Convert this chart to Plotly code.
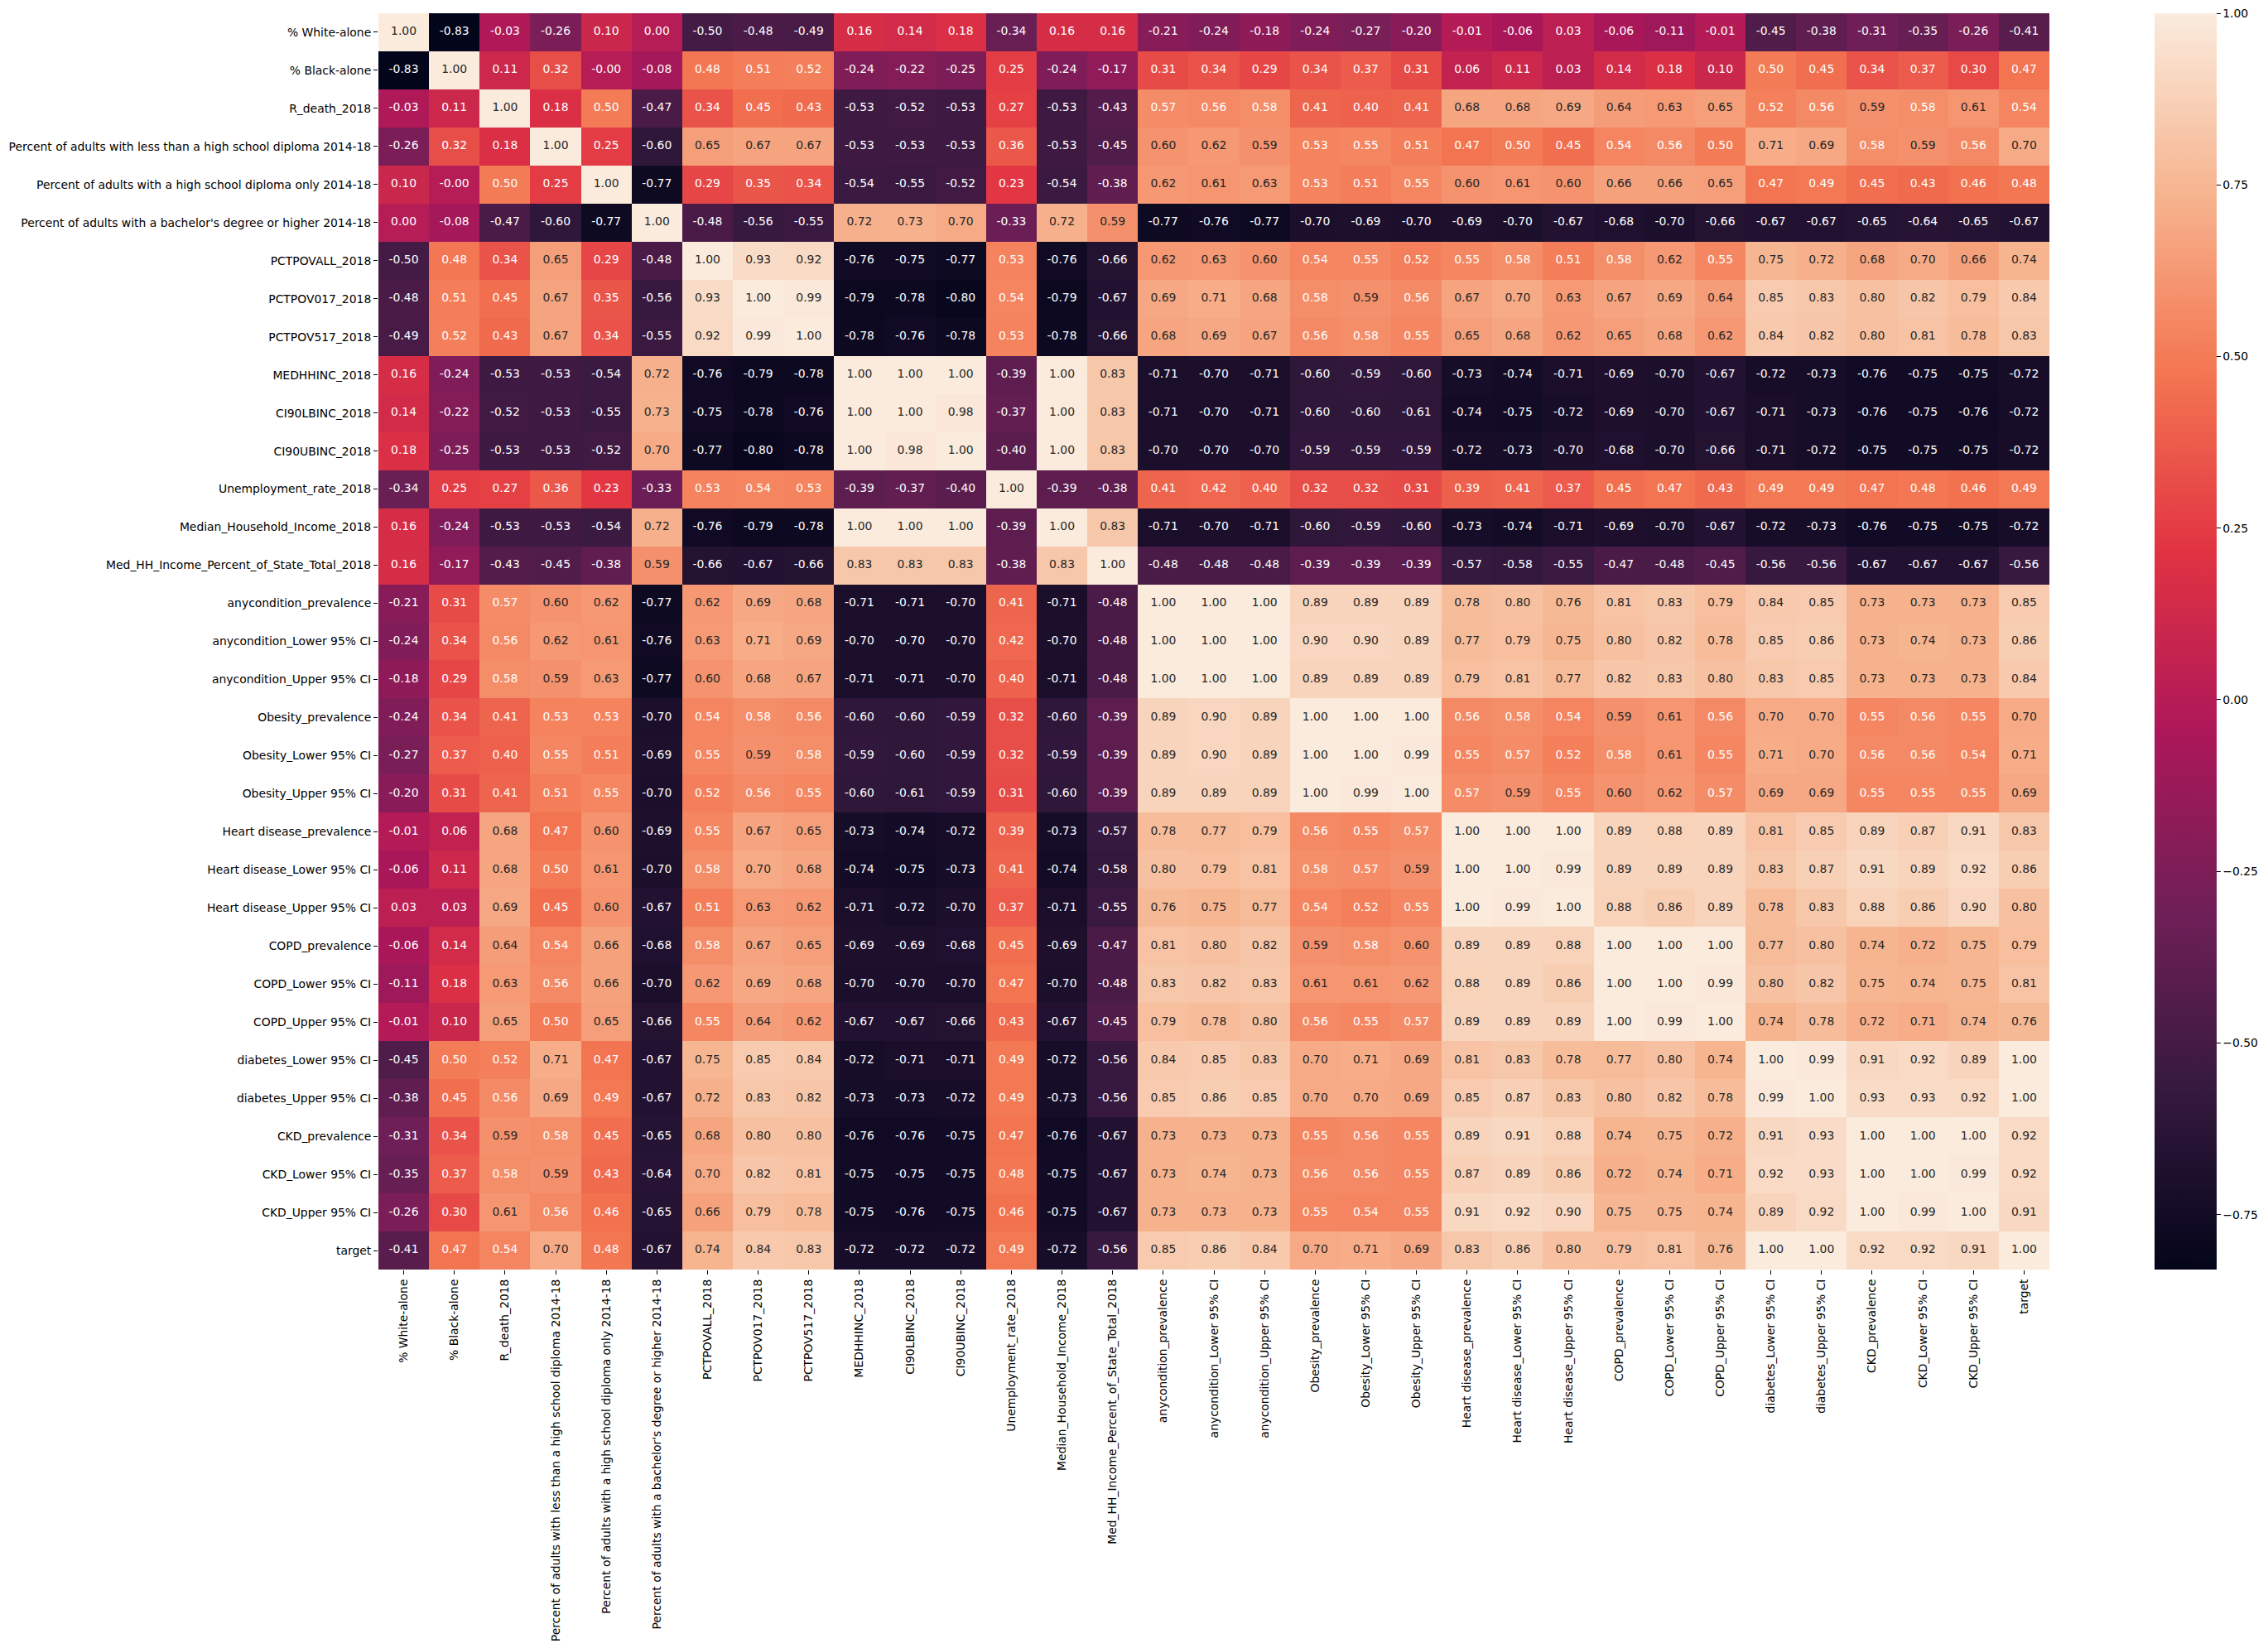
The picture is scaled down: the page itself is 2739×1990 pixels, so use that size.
import plotly.graph_objects as go

labels = [
    "% White-alone", "% Black-alone", "R_death_2018",
    "Percent of adults with less than a high school diploma 2014-18",
    "Percent of adults with a high school diploma only 2014-18",
    "Percent of adults with a bachelor's degree or higher 2014-18",
    "PCTPOVALL_2018", "PCTPOV017_2018", "PCTPOV517_2018",
    "MEDHHINC_2018", "CI90LBINC_2018", "CI90UBINC_2018",
    "Unemployment_rate_2018", "Median_Household_Income_2018",
    "Med_HH_Income_Percent_of_State_Total_2018",
    "anycondition_prevalence", "anycondition_Lower 95% CI", "anycondition_Upper 95% CI",
    "Obesity_prevalence", "Obesity_Lower 95% CI", "Obesity_Upper 95% CI",
    "Heart disease_prevalence", "Heart disease_Lower 95% CI", "Heart disease_Upper 95% CI",
    "COPD_prevalence", "COPD_Lower 95% CI", "COPD_Upper 95% CI",
    "diabetes_Lower 95% CI", "diabetes_Upper 95% CI",
    "CKD_prevalence", "CKD_Lower 95% CI", "CKD_Upper 95% CI", "target",
]

corr = [
    [1.00, -0.83, -0.03, -0.26, 0.10, 0.00, -0.50, -0.48, -0.49, 0.16, 0.14, 0.18, -0.34, 0.16, 0.16, -0.21, -0.24, -0.18, -0.24, -0.27, -0.20, -0.01, -0.06, 0.03, -0.06, -0.11, -0.01, -0.45, -0.38, -0.31, -0.35, -0.26, -0.41],
    [-0.83, 1.00, 0.11, 0.32, -0.0, -0.08, 0.48, 0.51, 0.52, -0.24, -0.22, -0.25, 0.25, -0.24, -0.17, 0.31, 0.34, 0.29, 0.34, 0.37, 0.31, 0.06, 0.11, 0.03, 0.14, 0.18, 0.10, 0.50, 0.45, 0.34, 0.37, 0.30, 0.47],
    [-0.03, 0.11, 1.00, 0.18, 0.50, -0.47, 0.34, 0.45, 0.43, -0.53, -0.52, -0.53, 0.27, -0.53, -0.43, 0.57, 0.56, 0.58, 0.41, 0.40, 0.41, 0.68, 0.68, 0.69, 0.64, 0.63, 0.65, 0.52, 0.56, 0.59, 0.58, 0.61, 0.54],
    [-0.26, 0.32, 0.18, 1.00, 0.25, -0.60, 0.65, 0.67, 0.67, -0.53, -0.53, -0.53, 0.36, -0.53, -0.45, 0.60, 0.62, 0.59, 0.53, 0.55, 0.51, 0.47, 0.50, 0.45, 0.54, 0.56, 0.50, 0.71, 0.69, 0.58, 0.59, 0.56, 0.70],
    [0.10, -0.0, 0.50, 0.25, 1.00, -0.77, 0.29, 0.35, 0.34, -0.54, -0.55, -0.52, 0.23, -0.54, -0.38, 0.62, 0.61, 0.63, 0.53, 0.51, 0.55, 0.60, 0.61, 0.60, 0.66, 0.66, 0.65, 0.47, 0.49, 0.45, 0.43, 0.46, 0.48],
    [0.00, -0.08, -0.47, -0.60, -0.77, 1.00, -0.48, -0.56, -0.55, 0.72, 0.73, 0.70, -0.33, 0.72, 0.59, -0.77, -0.76, -0.77, -0.70, -0.69, -0.70, -0.69, -0.70, -0.67, -0.68, -0.70, -0.66, -0.67, -0.67, -0.65, -0.64, -0.65, -0.67],
    [-0.50, 0.48, 0.34, 0.65, 0.29, -0.48, 1.00, 0.93, 0.92, -0.76, -0.75, -0.77, 0.53, -0.76, -0.66, 0.62, 0.63, 0.60, 0.54, 0.55, 0.52, 0.55, 0.58, 0.51, 0.58, 0.62, 0.55, 0.75, 0.72, 0.68, 0.70, 0.66, 0.74],
    [-0.48, 0.51, 0.45, 0.67, 0.35, -0.56, 0.93, 1.00, 0.99, -0.79, -0.78, -0.80, 0.54, -0.79, -0.67, 0.69, 0.71, 0.68, 0.58, 0.59, 0.56, 0.67, 0.70, 0.63, 0.67, 0.69, 0.64, 0.85, 0.83, 0.80, 0.82, 0.79, 0.84],
    [-0.49, 0.52, 0.43, 0.67, 0.34, -0.55, 0.92, 0.99, 1.00, -0.78, -0.76, -0.78, 0.53, -0.78, -0.66, 0.68, 0.69, 0.67, 0.56, 0.58, 0.55, 0.65, 0.68, 0.62, 0.65, 0.68, 0.62, 0.84, 0.82, 0.80, 0.81, 0.78, 0.83],
    [0.16, -0.24, -0.53, -0.53, -0.54, 0.72, -0.76, -0.79, -0.78, 1.00, 1.00, 1.00, -0.39, 1.00, 0.83, -0.71, -0.70, -0.71, -0.60, -0.59, -0.60, -0.73, -0.74, -0.71, -0.69, -0.70, -0.67, -0.72, -0.73, -0.76, -0.75, -0.75, -0.72],
    [0.14, -0.22, -0.52, -0.53, -0.55, 0.73, -0.75, -0.78, -0.76, 1.00, 1.00, 0.98, -0.37, 1.00, 0.83, -0.71, -0.70, -0.71, -0.60, -0.60, -0.61, -0.74, -0.75, -0.72, -0.69, -0.70, -0.67, -0.71, -0.73, -0.76, -0.75, -0.76, -0.72],
    [0.18, -0.25, -0.53, -0.53, -0.52, 0.70, -0.77, -0.80, -0.78, 1.00, 0.98, 1.00, -0.40, 1.00, 0.83, -0.70, -0.70, -0.70, -0.59, -0.59, -0.59, -0.72, -0.73, -0.70, -0.68, -0.70, -0.66, -0.71, -0.72, -0.75, -0.75, -0.75, -0.72],
    [-0.34, 0.25, 0.27, 0.36, 0.23, -0.33, 0.53, 0.54, 0.53, -0.39, -0.37, -0.40, 1.00, -0.39, -0.38, 0.41, 0.42, 0.40, 0.32, 0.32, 0.31, 0.39, 0.41, 0.37, 0.45, 0.47, 0.43, 0.49, 0.49, 0.47, 0.48, 0.46, 0.49],
    [0.16, -0.24, -0.53, -0.53, -0.54, 0.72, -0.76, -0.79, -0.78, 1.00, 1.00, 1.00, -0.39, 1.00, 0.83, -0.71, -0.70, -0.71, -0.60, -0.59, -0.60, -0.73, -0.74, -0.71, -0.69, -0.70, -0.67, -0.72, -0.73, -0.76, -0.75, -0.75, -0.72],
    [0.16, -0.17, -0.43, -0.45, -0.38, 0.59, -0.66, -0.67, -0.66, 0.83, 0.83, 0.83, -0.38, 0.83, 1.00, -0.48, -0.48, -0.48, -0.39, -0.39, -0.39, -0.57, -0.58, -0.55, -0.47, -0.48, -0.45, -0.56, -0.56, -0.67, -0.67, -0.67, -0.56],
    [-0.21, 0.31, 0.57, 0.60, 0.62, -0.77, 0.62, 0.69, 0.68, -0.71, -0.71, -0.70, 0.41, -0.71, -0.48, 1.00, 1.00, 1.00, 0.89, 0.89, 0.89, 0.78, 0.80, 0.76, 0.81, 0.83, 0.79, 0.84, 0.85, 0.73, 0.73, 0.73, 0.85],
    [-0.24, 0.34, 0.56, 0.62, 0.61, -0.76, 0.63, 0.71, 0.69, -0.70, -0.70, -0.70, 0.42, -0.70, -0.48, 1.00, 1.00, 1.00, 0.90, 0.90, 0.89, 0.77, 0.79, 0.75, 0.80, 0.82, 0.78, 0.85, 0.86, 0.73, 0.74, 0.73, 0.86],
    [-0.18, 0.29, 0.58, 0.59, 0.63, -0.77, 0.60, 0.68, 0.67, -0.71, -0.71, -0.70, 0.40, -0.71, -0.48, 1.00, 1.00, 1.00, 0.89, 0.89, 0.89, 0.79, 0.81, 0.77, 0.82, 0.83, 0.80, 0.83, 0.85, 0.73, 0.73, 0.73, 0.84],
    [-0.24, 0.34, 0.41, 0.53, 0.53, -0.70, 0.54, 0.58, 0.56, -0.60, -0.60, -0.59, 0.32, -0.60, -0.39, 0.89, 0.90, 0.89, 1.00, 1.00, 1.00, 0.56, 0.58, 0.54, 0.59, 0.61, 0.56, 0.70, 0.70, 0.55, 0.56, 0.55, 0.70],
    [-0.27, 0.37, 0.40, 0.55, 0.51, -0.69, 0.55, 0.59, 0.58, -0.59, -0.60, -0.59, 0.32, -0.59, -0.39, 0.89, 0.90, 0.89, 1.00, 1.00, 0.99, 0.55, 0.57, 0.52, 0.58, 0.61, 0.55, 0.71, 0.70, 0.56, 0.56, 0.54, 0.71],
    [-0.20, 0.31, 0.41, 0.51, 0.55, -0.70, 0.52, 0.56, 0.55, -0.60, -0.61, -0.59, 0.31, -0.60, -0.39, 0.89, 0.89, 0.89, 1.00, 0.99, 1.00, 0.57, 0.59, 0.55, 0.60, 0.62, 0.57, 0.69, 0.69, 0.55, 0.55, 0.55, 0.69],
    [-0.01, 0.06, 0.68, 0.47, 0.60, -0.69, 0.55, 0.67, 0.65, -0.73, -0.74, -0.72, 0.39, -0.73, -0.57, 0.78, 0.77, 0.79, 0.56, 0.55, 0.57, 1.00, 1.00, 1.00, 0.89, 0.88, 0.89, 0.81, 0.85, 0.89, 0.87, 0.91, 0.83],
    [-0.06, 0.11, 0.68, 0.50, 0.61, -0.70, 0.58, 0.70, 0.68, -0.74, -0.75, -0.73, 0.41, -0.74, -0.58, 0.80, 0.79, 0.81, 0.58, 0.57, 0.59, 1.00, 1.00, 0.99, 0.89, 0.89, 0.89, 0.83, 0.87, 0.91, 0.89, 0.92, 0.86],
    [0.03, 0.03, 0.69, 0.45, 0.60, -0.67, 0.51, 0.63, 0.62, -0.71, -0.72, -0.70, 0.37, -0.71, -0.55, 0.76, 0.75, 0.77, 0.54, 0.52, 0.55, 1.00, 0.99, 1.00, 0.88, 0.86, 0.89, 0.78, 0.83, 0.88, 0.86, 0.90, 0.80],
    [-0.06, 0.14, 0.64, 0.54, 0.66, -0.68, 0.58, 0.67, 0.65, -0.69, -0.69, -0.68, 0.45, -0.69, -0.47, 0.81, 0.80, 0.82, 0.59, 0.58, 0.60, 0.89, 0.89, 0.88, 1.00, 1.00, 1.00, 0.77, 0.80, 0.74, 0.72, 0.75, 0.79],
    [-0.11, 0.18, 0.63, 0.56, 0.66, -0.70, 0.62, 0.69, 0.68, -0.70, -0.70, -0.70, 0.47, -0.70, -0.48, 0.83, 0.82, 0.83, 0.61, 0.61, 0.62, 0.88, 0.89, 0.86, 1.00, 1.00, 0.99, 0.80, 0.82, 0.75, 0.74, 0.75, 0.81],
    [-0.01, 0.10, 0.65, 0.50, 0.65, -0.66, 0.55, 0.64, 0.62, -0.67, -0.67, -0.66, 0.43, -0.67, -0.45, 0.79, 0.78, 0.80, 0.56, 0.55, 0.57, 0.89, 0.89, 0.89, 1.00, 0.99, 1.00, 0.74, 0.78, 0.72, 0.71, 0.74, 0.76],
    [-0.45, 0.50, 0.52, 0.71, 0.47, -0.67, 0.75, 0.85, 0.84, -0.72, -0.71, -0.71, 0.49, -0.72, -0.56, 0.84, 0.85, 0.83, 0.70, 0.71, 0.69, 0.81, 0.83, 0.78, 0.77, 0.80, 0.74, 1.00, 0.99, 0.91, 0.92, 0.89, 1.00],
    [-0.38, 0.45, 0.56, 0.69, 0.49, -0.67, 0.72, 0.83, 0.82, -0.73, -0.73, -0.72, 0.49, -0.73, -0.56, 0.85, 0.86, 0.85, 0.70, 0.70, 0.69, 0.85, 0.87, 0.83, 0.80, 0.82, 0.78, 0.99, 1.00, 0.93, 0.93, 0.92, 1.00],
    [-0.31, 0.34, 0.59, 0.58, 0.45, -0.65, 0.68, 0.80, 0.80, -0.76, -0.76, -0.75, 0.47, -0.76, -0.67, 0.73, 0.73, 0.73, 0.55, 0.56, 0.55, 0.89, 0.91, 0.88, 0.74, 0.75, 0.72, 0.91, 0.93, 1.00, 1.00, 1.00, 0.92],
    [-0.35, 0.37, 0.58, 0.59, 0.43, -0.64, 0.70, 0.82, 0.81, -0.75, -0.75, -0.75, 0.48, -0.75, -0.67, 0.73, 0.74, 0.73, 0.56, 0.56, 0.55, 0.87, 0.89, 0.86, 0.72, 0.74, 0.71, 0.92, 0.93, 1.00, 1.00, 0.99, 0.92],
    [-0.26, 0.30, 0.61, 0.56, 0.46, -0.65, 0.66, 0.79, 0.78, -0.75, -0.76, -0.75, 0.46, -0.75, -0.67, 0.73, 0.73, 0.73, 0.55, 0.54, 0.55, 0.91, 0.92, 0.90, 0.75, 0.75, 0.74, 0.89, 0.92, 1.00, 0.99, 1.00, 0.91],
    [-0.41, 0.47, 0.54, 0.70, 0.48, -0.67, 0.74, 0.84, 0.83, -0.72, -0.72, -0.72, 0.49, -0.72, -0.56, 0.85, 0.86, 0.84, 0.70, 0.71, 0.69, 0.83, 0.86, 0.80, 0.79, 0.81, 0.76, 1.00, 1.00, 0.92, 0.92, 0.91, 1.00],
]

colorbar_ticks = [-0.75, -0.50, -0.25, 0.00, 0.25, 0.50, 0.75, 1.00]

# seaborn "rocket" colormap
rocket = [
    [0.0, "#03051a"],
    [1 / 7, "#35193e"],
    [2 / 7, "#701f57"],
    [3 / 7, "#ad1759"],
    [4 / 7, "#e13342"],
    [5 / 7, "#f37651"],
    [6 / 7, "#f6b48f"],
    [1.0, "#faebdd"],
]

n = len(labels)
idx = list(range(n))
zmin = min(min(r) for r in corr)
zmax = max(max(r) for r in corr)

W, H = 2739, 1990
left, right, top, bottom = 457, 2475, 16, 1533
FONT = "DejaVu Sans"
FS = 13.9

fig = go.Figure()
fig.add_trace(go.Heatmap(
    z=corr, x=idx, y=idx, colorscale=rocket, zmin=zmin, zmax=zmax,
    hoverinfo="skip",
    colorbar=dict(
        x=2602 / W, xanchor="left", xpad=0,
        y=1 - top / H, yanchor="top", ypad=0,
        len=(bottom - top) / H, lenmode="fraction",
        thickness=75, thicknessmode="pixels",
        outlinewidth=0,
        tickvals=colorbar_ticks, tickformat=".2f",
        ticks="outside", ticklen=5, tickwidth=1.1, tickcolor="black",
        tickfont=dict(family=FONT, size=FS, color="black"),
    ),
))

xs, ys, txt, cols = [], [], [], []
for i, row in enumerate(corr):
    for j, v in enumerate(row):
        xs.append(j)
        ys.append(i)
        txt.append(f"{v:.2f}")
        cols.append("#262626" if v > 0.585 else "white")

fig.add_trace(go.Scatter(
    x=xs, y=ys, mode="text", text=txt, textposition="middle center",
    textfont=dict(family=FONT, size=FS, color=cols),
    hoverinfo="skip", showlegend=False,
))

axis_common = dict(
    showgrid=False, zeroline=False, showline=False,
    ticks="outside", ticklen=5, tickwidth=1.1, tickcolor="black",
    tickfont=dict(family=FONT, size=FS, color="black"),
    tickvals=idx, ticktext=labels, fixedrange=True,
)

fig.update_layout(
    width=W, height=H,
    margin=dict(l=0, r=0, t=0, b=0),
    paper_bgcolor="white", plot_bgcolor="white",
    xaxis=dict(domain=[left / W, right / W], range=[-0.5, n - 0.5],
               tickangle=-90, **axis_common),
    yaxis=dict(domain=[1 - bottom / H, 1 - top / H], range=[n - 0.5, -0.5],
               **axis_common),
    showlegend=False,
)

fig.write_html(
    "out.html",
    config={"displayModeBar": False},
    post_script="document.body.style.margin='0';document.body.style.overflow='hidden';",
)
